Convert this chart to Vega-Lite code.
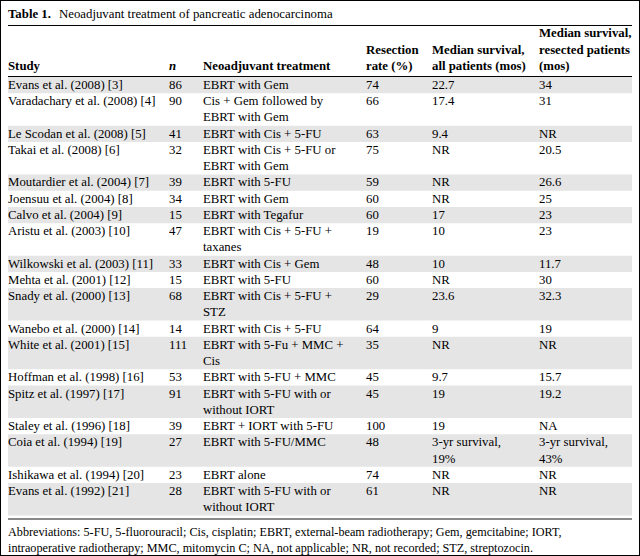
{
  "$schema": "https://vega.github.io/schema/vega-lite/v6.json",
  "width": 640,
  "height": 556,
  "autosize": {"type": "fit", "contains": "padding"},
  "padding": 0,
  "background": "white",
  "config": {
    "view": {"stroke": "#000", "strokeWidth": 2},
    "text": {"font": "Liberation Serif", "fontSize": 12.8, "color": "#000"}
  },
  "datasets": {
    "studies": [
      {"study": "Evans et al. (2008) [3]", "n": 86, "treatment": "EBRT with Gem", "resection": 74, "all": 22.7, "resected": 34},
      {"study": "Varadachary et al. (2008) [4]", "n": 90, "treatment": ["Cis + Gem followed by", "EBRT with Gem"], "resection": 66, "all": 17.4, "resected": 31},
      {"study": "Le Scodan et al. (2008) [5]", "n": 41, "treatment": "EBRT with Cis + 5-FU", "resection": 63, "all": 9.4, "resected": "NR"},
      {"study": "Takai et al. (2008) [6]", "n": 32, "treatment": ["EBRT with Cis + 5-FU or", "EBRT with Gem"], "resection": 75, "all": "NR", "resected": 20.5},
      {"study": "Moutardier et al. (2004) [7]", "n": 39, "treatment": "EBRT with 5-FU", "resection": 59, "all": "NR", "resected": 26.6},
      {"study": "Joensuu et al. (2004) [8]", "n": 34, "treatment": "EBRT with Gem", "resection": 60, "all": "NR", "resected": 25},
      {"study": "Calvo et al. (2004) [9]", "n": 15, "treatment": "EBRT with Tegafur", "resection": 60, "all": 17, "resected": 23},
      {"study": "Aristu et al. (2003) [10]", "n": 47, "treatment": ["EBRT with Cis + 5-FU +", "taxanes"], "resection": 19, "all": 10, "resected": 23},
      {"study": "Wilkowski et al. (2003) [11]", "n": 33, "treatment": "EBRT with Cis + Gem", "resection": 48, "all": 10, "resected": 11.7},
      {"study": "Mehta et al. (2001) [12]", "n": 15, "treatment": "EBRT with 5-FU", "resection": 60, "all": "NR", "resected": 30},
      {"study": "Snady et al. (2000) [13]", "n": 68, "treatment": ["EBRT with Cis + 5-FU +", "STZ"], "resection": 29, "all": 23.6, "resected": 32.3},
      {"study": "Wanebo et al. (2000) [14]", "n": 14, "treatment": "EBRT with Cis + 5-FU", "resection": 64, "all": 9, "resected": 19},
      {"study": "White et al. (2001) [15]", "n": 111, "treatment": ["EBRT with 5-Fu + MMC +", "Cis"], "resection": 35, "all": "NR", "resected": "NR"},
      {"study": "Hoffman et al. (1998) [16]", "n": 53, "treatment": "EBRT with 5-FU + MMC", "resection": 45, "all": 9.7, "resected": 15.7},
      {"study": "Spitz et al. (1997) [17]", "n": 91, "treatment": ["EBRT with 5-FU with or", "without IORT"], "resection": 45, "all": 19, "resected": 19.2},
      {"study": "Staley et al. (1996) [18]", "n": 39, "treatment": "EBRT + IORT with 5-FU", "resection": 100, "all": 19, "resected": "NA"},
      {"study": "Coia et al. (1994) [19]", "n": 27, "treatment": "EBRT with 5-FU/MMC", "resection": 48, "all": ["3-yr survival,", "19%"], "resected": ["3-yr survival,", "43%"]},
      {"study": "Ishikawa et al. (1994) [20]", "n": 23, "treatment": "EBRT alone", "resection": 74, "all": "NR", "resected": "NR"},
      {"study": "Evans et al. (1992) [21]", "n": 28, "treatment": ["EBRT with 5-FU with or", "without IORT"], "resection": 61, "all": "NR", "resected": "NR"}
    ],
    "header": [
      {"study": "Study", "n": "n", "treatment": "Neoadjuvant treatment", "resection": ["Resection", "rate (%)"], "all": ["Median survival,", "all patients (mos)"], "resected": ["Median survival,", "resected patients", "(mos)"]}
    ],
    "caption": [
      {"label": "Table 1.", "title": "Neoadjuvant treatment of pancreatic adenocarcinoma"}
    ],
    "footnote": [
      {"text": ["Abbreviations: 5-FU, 5-fluorouracil; Cis, cisplatin; EBRT, external-beam radiotherapy; Gem, gemcitabine; IORT,", "intraoperative radiotherapy; MMC, mitomycin C; NA, not applicable; NR, not recorded; STZ, streptozocin."]}
    ]
  },
  "layer": [
    {
      "data": {"name": "studies"},
      "transform": [
        {"calculate": "max(isArray(datum.treatment) ? length(datum.treatment) : 1, isArray(datum.all) ? length(datum.all) : 1, isArray(datum.resected) ? length(datum.resected) : 1)", "as": "nl"},
        {"window": [{"op": "sum", "field": "nl", "as": "cum"}, {"op": "row_number", "as": "rownum"}], "frame": [null, 0]},
        {"calculate": "datum.cum - datum.nl", "as": "top"},
        {"filter": "datum.rownum % 2 == 1"}
      ],
      "mark": {"type": "rect", "color": "#e5e5e5"},
      "encoding": {
        "x": {"datum": 0, "type": "quantitative", "scale": {"domain": [0, 1, 2, 3, 4, 5, 6], "range": [8, 169, 203, 366, 432, 539, 632], "zero": false, "nice": false}, "axis": null},
        "x2": {"datum": 6},
        "y": {"field": "top", "type": "quantitative", "scale": {"domain": [-4.741, 29.495], "reverse": true, "zero": false, "nice": false}, "axis": null},
        "y2": {"field": "cum"}
      }
    },
    {
      "data": {"name": "studies"},
      "transform": [
        {"calculate": "max(isArray(datum.treatment) ? length(datum.treatment) : 1, isArray(datum.all) ? length(datum.all) : 1, isArray(datum.resected) ? length(datum.resected) : 1)", "as": "nl"},
        {"window": [{"op": "sum", "field": "nl", "as": "cum"}, {"op": "row_number", "as": "rownum"}], "frame": [null, 0]},
        {"calculate": "datum.cum - datum.nl", "as": "top"},
        {"fold": ["study", "n", "treatment", "resection", "all", "resected"]},
        {"calculate": "indexof(['study','n','treatment','resection','all','resected'], datum.key)", "as": "col"}
      ],
      "mark": {"type": "text", "align": "left", "baseline": "line-top", "lineHeight": 16.24},
      "encoding": {
        "x": {"field": "col", "type": "quantitative", "scale": {"domain": [0, 1, 2, 3, 4, 5, 6], "range": [8, 169, 203, 366, 432, 539, 632], "zero": false, "nice": false}, "axis": null},
        "y": {"field": "top", "type": "quantitative", "scale": {"domain": [-4.741, 29.495], "reverse": true, "zero": false, "nice": false}, "axis": null},
        "text": {"field": "value", "type": "nominal"}
      }
    },
    {
      "data": {"name": "header"},
      "transform": [
        {"fold": ["study", "n", "treatment", "resection", "all", "resected"]},
        {"calculate": "indexof(['study','n','treatment','resection','all','resected'], datum.key)", "as": "col"},
        {"calculate": "isArray(datum.value) ? length(datum.value) : 1", "as": "hl"},
        {"calculate": "-0.176 - datum.hl", "as": "htop"},
        {"filter": "datum.key != 'n'"}
      ],
      "mark": {"type": "text", "align": "left", "baseline": "line-top", "lineHeight": 16.24, "fontWeight": "bold"},
      "encoding": {
        "x": {"field": "col", "type": "quantitative", "scale": {"domain": [0, 1, 2, 3, 4, 5, 6], "range": [8, 169, 203, 366, 432, 539, 632], "zero": false, "nice": false}, "axis": null},
        "y": {"field": "htop", "type": "quantitative", "scale": {"domain": [-4.741, 29.495], "reverse": true, "zero": false, "nice": false}, "axis": null},
        "text": {"field": "value", "type": "nominal"}
      }
    },
    {
      "data": {"name": "header"},
      "transform": [
        {"fold": ["n"]},
        {"calculate": "indexof(['study','n','treatment','resection','all','resected'], datum.key)", "as": "col"},
        {"calculate": "-0.176 - 1", "as": "htop"}
      ],
      "mark": {"type": "text", "align": "left", "baseline": "line-top", "lineHeight": 16.24, "fontWeight": "bold", "fontStyle": "italic"},
      "encoding": {
        "x": {"field": "col", "type": "quantitative", "scale": {"domain": [0, 1, 2, 3, 4, 5, 6], "range": [8, 169, 203, 366, 432, 539, 632], "zero": false, "nice": false}, "axis": null},
        "y": {"field": "htop", "type": "quantitative", "scale": {"domain": [-4.741, 29.495], "reverse": true, "zero": false, "nice": false}, "axis": null},
        "text": {"field": "value", "type": "nominal"}
      }
    },
    {
      "data": {"name": "caption"},
      "mark": {"type": "text", "align": "left", "baseline": "line-top", "lineHeight": 16.24, "fontWeight": "bold"},
      "encoding": {
        "x": {"datum": 0, "type": "quantitative", "scale": {"domain": [0, 1, 2, 3, 4, 5, 6], "range": [8, 169, 203, 366, 432, 539, 632], "zero": false, "nice": false}, "axis": null},
        "y": {"datum": -4.378, "type": "quantitative", "scale": {"domain": [-4.741, 29.495], "reverse": true, "zero": false, "nice": false}, "axis": null},
        "text": {"field": "label", "type": "nominal"}
      }
    },
    {
      "data": {"name": "caption"},
      "mark": {"type": "text", "align": "left", "baseline": "line-top", "lineHeight": 16.24, "dx": 51},
      "encoding": {
        "x": {"datum": 0, "type": "quantitative", "scale": {"domain": [0, 1, 2, 3, 4, 5, 6], "range": [8, 169, 203, 366, 432, 539, 632], "zero": false, "nice": false}, "axis": null},
        "y": {"datum": -4.378, "type": "quantitative", "scale": {"domain": [-4.741, 29.495], "reverse": true, "zero": false, "nice": false}, "axis": null},
        "text": {"field": "title", "type": "nominal"}
      }
    },
    {
      "data": {"values": [{}]},
      "mark": {"type": "rule", "color": "#000", "strokeWidth": 1},
      "encoding": {
        "x": {"datum": 0, "type": "quantitative", "scale": {"domain": [0, 1, 2, 3, 4, 5, 6], "range": [8, 169, 203, 366, 432, 539, 632], "zero": false, "nice": false}, "axis": null},
        "x2": {"datum": 6},
        "y": {"datum": -3.171, "type": "quantitative", "scale": {"domain": [-4.741, 29.495], "reverse": true, "zero": false, "nice": false}, "axis": null}
      }
    },
    {
      "data": {"values": [{}]},
      "mark": {"type": "rule", "color": "#000", "strokeWidth": 1},
      "encoding": {
        "x": {"datum": 0, "type": "quantitative", "scale": {"domain": [0, 1, 2, 3, 4, 5, 6], "range": [8, 169, 203, 366, 432, 539, 632], "zero": false, "nice": false}, "axis": null},
        "x2": {"datum": 6},
        "y": {"datum": -0.031, "type": "quantitative", "scale": {"domain": [-4.741, 29.495], "reverse": true, "zero": false, "nice": false}, "axis": null}
      }
    },
    {
      "data": {"values": [{}]},
      "mark": {"type": "rule", "color": "#8a8a8a", "strokeWidth": 2},
      "encoding": {
        "x": {"datum": 0, "type": "quantitative", "scale": {"domain": [0, 1, 2, 3, 4, 5, 6], "range": [8, 169, 203, 366, 432, 539, 632], "zero": false, "nice": false}, "axis": null},
        "x2": {"datum": 6},
        "y": {"datum": 27.217, "type": "quantitative", "scale": {"domain": [-4.741, 29.495], "reverse": true, "zero": false, "nice": false}, "axis": null}
      }
    },
    {
      "data": {"name": "footnote"},
      "mark": {"type": "text", "align": "left", "baseline": "line-top", "lineHeight": 16.24, "fontSize": 12.2},
      "encoding": {
        "x": {"datum": 0, "type": "quantitative", "scale": {"domain": [0, 1, 2, 3, 4, 5, 6], "range": [8, 169, 203, 366, 432, 539, 632], "zero": false, "nice": false}, "axis": null},
        "y": {"datum": 27.52, "type": "quantitative", "scale": {"domain": [-4.741, 29.495], "reverse": true, "zero": false, "nice": false}, "axis": null},
        "text": {"field": "text", "type": "nominal"}
      }
    }
  ]
}
